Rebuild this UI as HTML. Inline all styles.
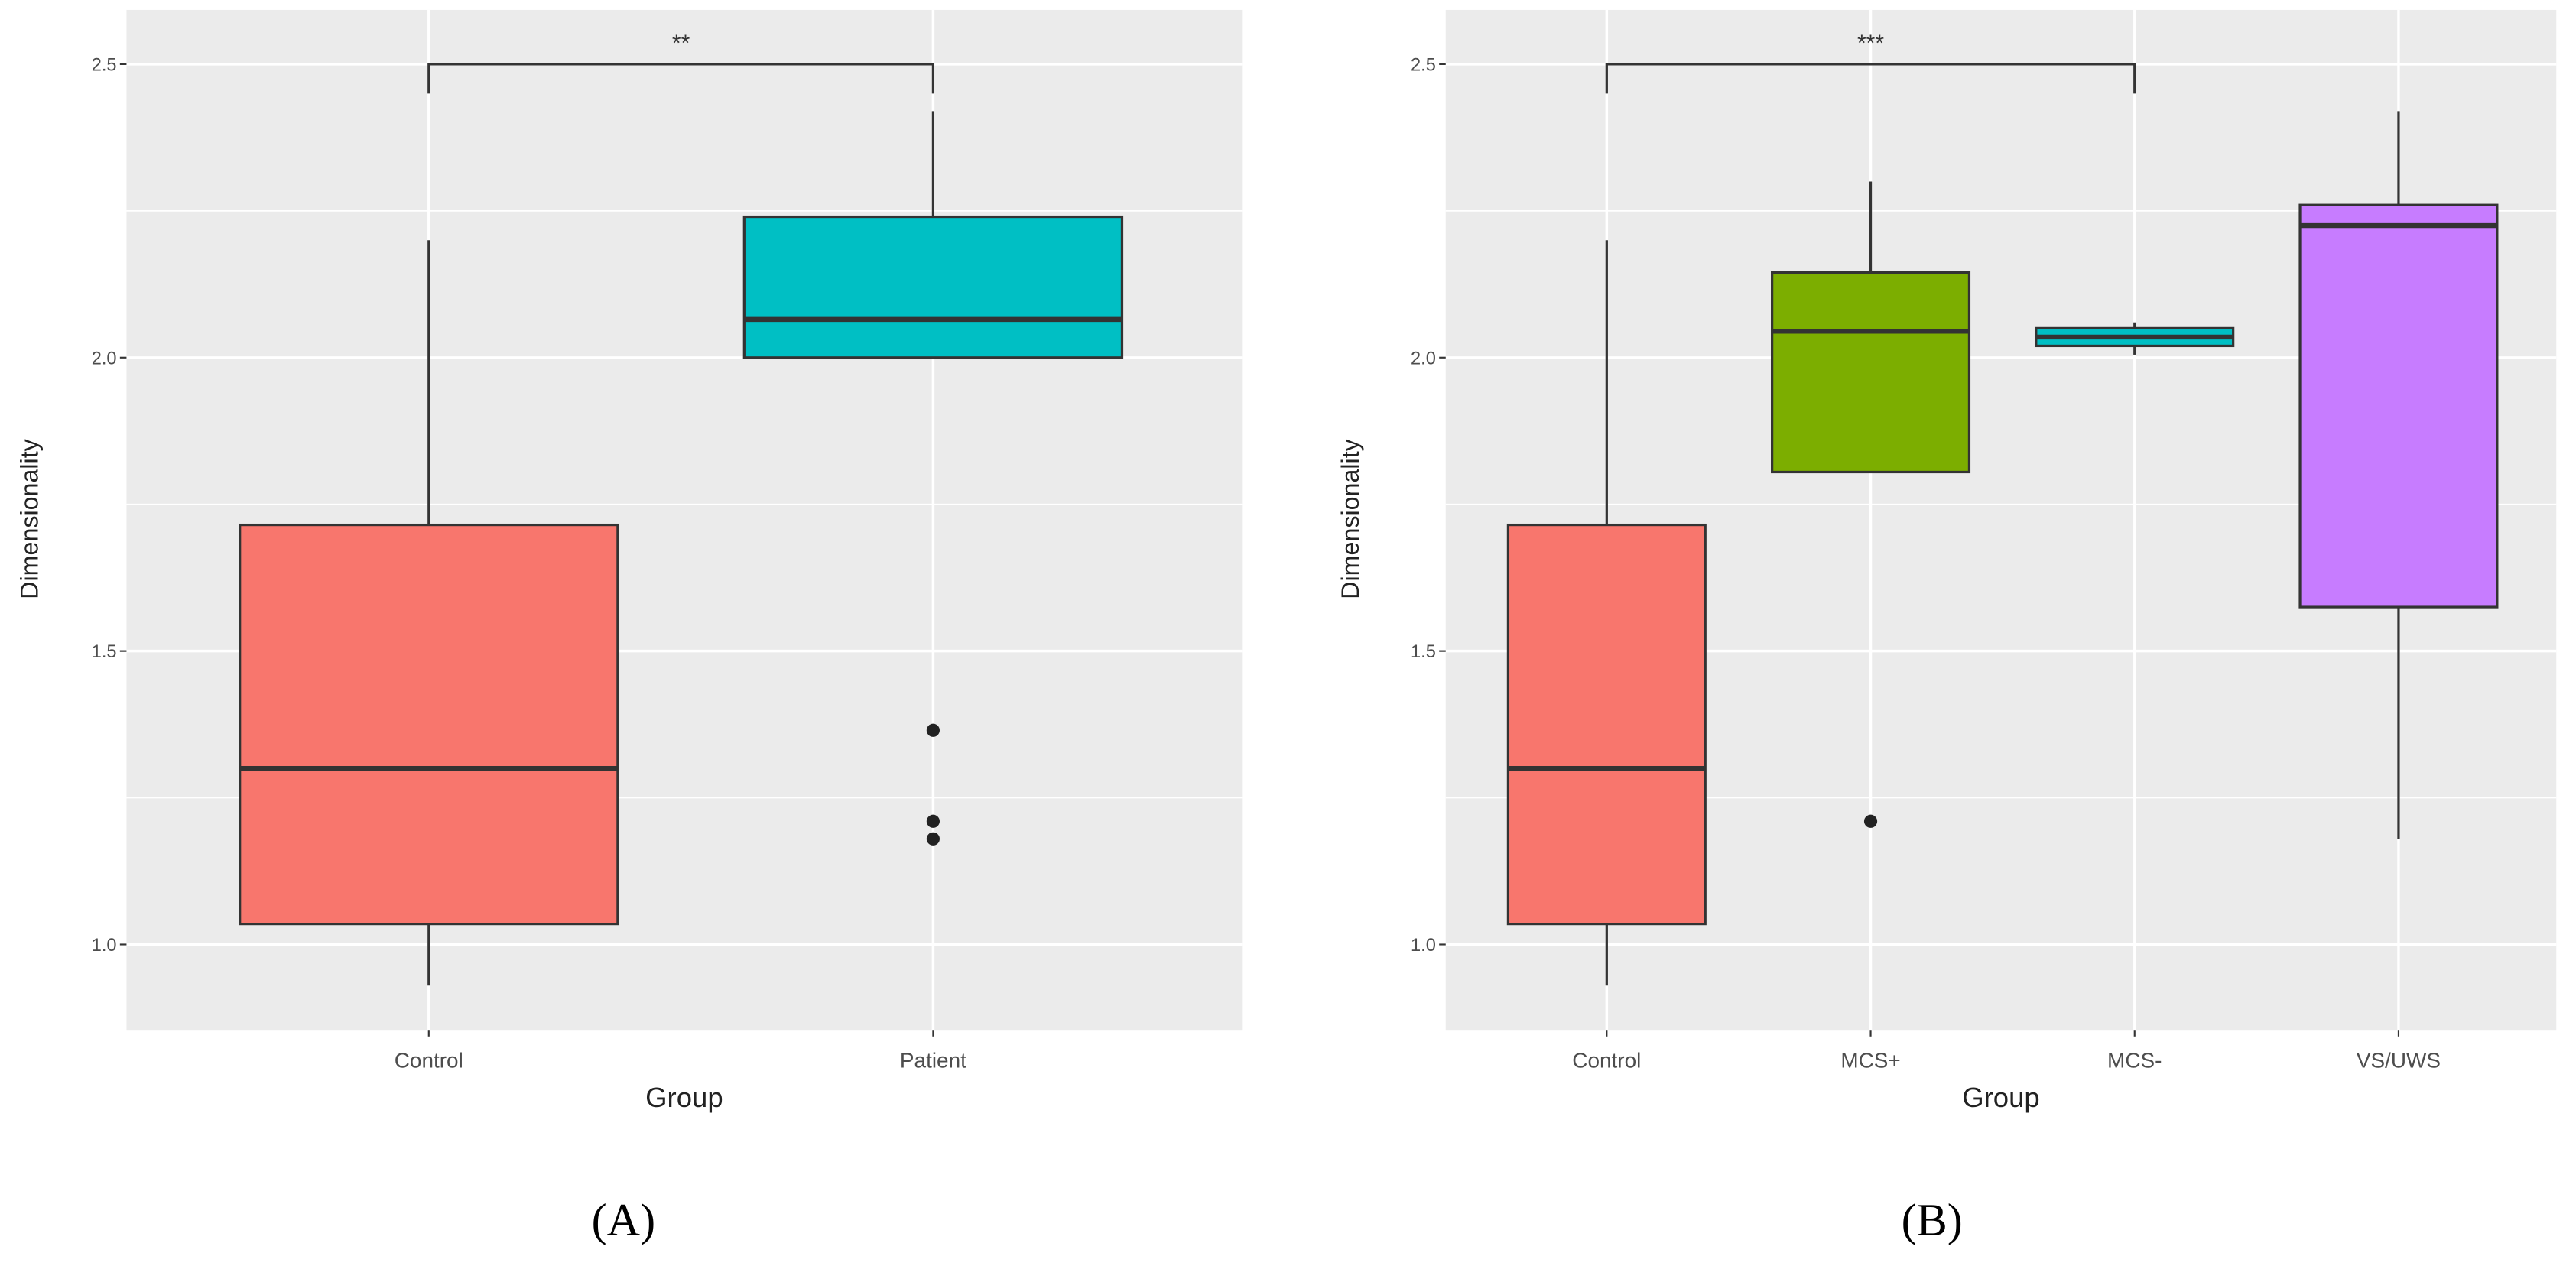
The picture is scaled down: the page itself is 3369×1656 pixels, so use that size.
<!DOCTYPE html>
<html><head><meta charset="utf-8"><style>html,body{margin:0;padding:0;background:#fff}svg{display:block}</style></head>
<body>
<svg id="fig" xmlns="http://www.w3.org/2000/svg" width="3369" height="1656" viewBox="0 0 1568 770.7" font-family="Liberation Sans, sans-serif"></svg>
<script>
// Panel A data
const catsA = ["Control","Patient"];
const lowA = [0.93, 2.0];
const q1A = [1.035, 2.0];
const medA = [1.30, 2.065];
const q3A = [1.715, 2.24];
const highA = [2.20, 2.42];
const outA = [[], [1.365, 1.21, 1.18]];
const colA = ["#F8766D", "#00BFC4"];
// Panel B data
const catsB = ["Control","MCS+","MCS-","VS/UWS"];
const lowB = [0.93, 1.805, 2.005, 1.18];
const q1B = [1.035, 1.805, 2.02, 1.575];
const medB = [1.30, 2.045, 2.035, 2.225];
const q3B = [1.715, 2.145, 2.05, 2.26];
const highB = [2.20, 2.30, 2.06, 2.42];
const outB = [[], [1.21], [], []];
const colB = ["#F8766D", "#7CAE00", "#00BFC4", "#C77CFF"];
const yTicks = [1.0, 1.5, 2.0, 2.5];
const yMinor = [1.25, 1.75, 2.25];

const NS = "http://www.w3.org/2000/svg";
const svg = document.getElementById("fig");
function mk(tag, attrs, parent) {
  const e = document.createElementNS(NS, tag);
  for (const k in attrs) e.setAttribute(k, attrs[k]);
  (parent || svg).appendChild(e);
  return e;
}
const yScale = v => 575 - (v - 1) * 357.3;

function panel(cfg) {
  const g = mk("g", {});
  
  
  const bg = mk("rect", {x: cfg.x0, y: 6, width: cfg.x1 - cfg.x0, height: 621, fill: "#EBEBEB"}, g);
  
  
  const n = cfg.cats.length;
  const step = (cfg.c1 - cfg.c0) / Math.max(n - 1, 1);
  const xS = i => cfg.c0 + i * step;
  yMinor.forEach(v => {
    const l = mk("line", {x1: cfg.x0, x2: cfg.x1, y1: yScale(v), y2: yScale(v), stroke: "#fff", "stroke-width": 0.8}, g);
    
    
  });
  yTicks.forEach(v => {
    const l = mk("line", {x1: cfg.x0, x2: cfg.x1, y1: yScale(v), y2: yScale(v), stroke: "#fff", "stroke-width": 1.6}, g);
    
    
    const tk = mk("line", {x1: cfg.x0 - 4, x2: cfg.x0, y1: yScale(v), y2: yScale(v), stroke: "#333", "stroke-width": 1}, g);
    
    
    const t = mk("text", {x: cfg.x0 - 6, y: yScale(v) + 4, "text-anchor": "end", "font-size": 11, fill: "#4D4D4D"}, g);
    t.textContent = v.toFixed(1);
    
    
  });
  cfg.cats.forEach((c, i) => {
    const x = xS(i);
    const l = mk("line", {x1: x, x2: x, y1: 6, y2: 627, stroke: "#fff", "stroke-width": 1.6}, g);
    
    
    const tk = mk("line", {x1: x, x2: x, y1: 627, y2: 631, stroke: "#333", "stroke-width": 1}, g);
    
    
    const t = mk("text", {x: x, y: 650, "text-anchor": "middle", "font-size": 13, fill: "#4D4D4D"}, g);
    t.textContent = c;
    
    
  });
  // bracket
  const bx1 = xS(cfg.br[0]), bx2 = xS(cfg.br[1]);
  const yb = yScale(2.5), yb2 = yScale(2.45);
  const br = mk("path", {d: `M${bx1},${yb2} L${bx1},${yb} L${bx2},${yb} L${bx2},${yb2}`, fill: "none", stroke: "#333", "stroke-width": 1.5}, g);
  
  
  const st = mk("text", {x: (bx1 + bx2) / 2, y: yb - 8, "text-anchor": "middle", "font-size": 14, fill: "#333"}, g);
  st.textContent = cfg.stars;
  
  
  // boxes
  cfg.cats.forEach((c, i) => {
    const x = xS(i), hw = cfg.hw;
    const bg2 = mk("g", {}, g);
    
    
    mk("line", {x1: x, x2: x, y1: yScale(cfg.high[i]), y2: yScale(cfg.q3[i]), stroke: "#333", "stroke-width": 1.5}, bg2);
    mk("line", {x1: x, x2: x, y1: yScale(cfg.q1[i]), y2: yScale(cfg.low[i]), stroke: "#333", "stroke-width": 1.5}, bg2);
    mk("rect", {x: x - hw, y: yScale(cfg.q3[i]), width: 2 * hw, height: yScale(cfg.q1[i]) - yScale(cfg.q3[i]), fill: cfg.col[i], stroke: "#333", "stroke-width": 1.5}, bg2);
    mk("line", {x1: x - hw, x2: x + hw, y1: yScale(cfg.med[i]), y2: yScale(cfg.med[i]), stroke: "#333", "stroke-width": 3}, bg2);
    cfg.out[i].forEach(v => {
      const p = mk("circle", {cx: x, cy: yScale(v), r: 4, fill: "#222"}, bg2);
      
      
    });
  });
  const yt = mk("text", {x: 0, y: 0, transform: `translate(${cfg.ytx},316) rotate(-90)`, "text-anchor": "middle", "font-size": 15, fill: "#222"}, g);
  yt.textContent = "Dimensionality";
  
  
  const xt = mk("text", {x: (cfg.x0 + cfg.x1) / 2, y: 674, "text-anchor": "middle", "font-size": 17, fill: "#222"}, g);
  xt.textContent = "Group";
  
  
  const pl = mk("text", {x: (cfg.x0 + cfg.x1) / 2 - 37 + cfg.lblOff, y: 752, "text-anchor": "middle", "font-size": 28, fill: "#000", "font-family": "Liberation Serif, serif"}, g);
  pl.textContent = cfg.label;
  
  
}

panel({name: "panel-a", x0: 77, x1: 756, c0: 261, c1: 568, hw: 115, cats: catsA, low: lowA, q1: q1A, med: medA, q3: q3A, high: highA, out: outA, col: colA, br: [0, 1], stars: "**", ytx: 23, label: "(A)", lblOff: 0});
panel({name: "panel-b", x0: 880, x1: 1556, c0: 978, c1: 1460, hw: 60, cats: catsB, low: lowB, q1: q1B, med: medB, q3: q3B, high: highB, out: outB, col: colB, br: [0, 2], stars: "***", ytx: 827, label: "(B)", lblOff: -5});
</script>
</body></html>
